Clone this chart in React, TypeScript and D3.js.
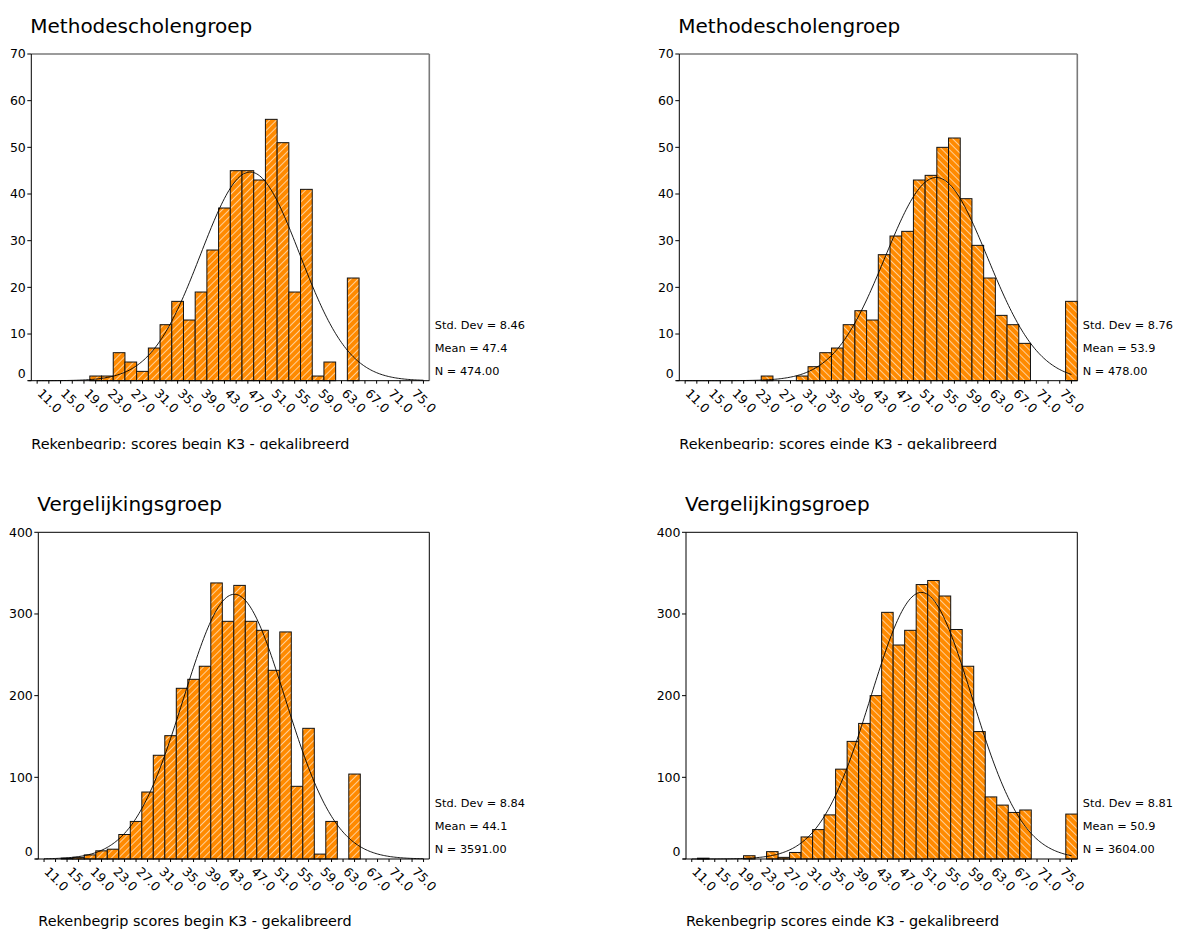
import React from "react";
import * as d3 from "d3";

// Bin midpoints (bin width 2) shared by all four histograms
const binMids = [11, 13, 15, 17, 19, 21, 23, 25, 27, 29, 31, 33, 35, 37, 39, 41, 43, 45, 47, 49, 51, 53, 55, 57, 59, 61, 63, 65, 67, 69, 71, 73, 75, 77];
const tickLabels = [11, 15, 19, 23, 27, 31, 35, 39, 43, 47, 51, 55, 59, 63, 67, 71, 75];

// Counts per bin, aligned with binMids
const methodBegin = [0, 0, 0, 0, 0, 1, 1, 6, 4, 2, 7, 12, 17, 13, 19, 28, 37, 45, 45, 43, 56, 51, 19, 41, 1, 4, 0, 22, 0, 0, 0, 0, 0, 0];
const methodEnd = [0, 0, 0, 0, 0, 0, 0, 1, 0, 0, 1, 3, 6, 7, 12, 15, 13, 27, 31, 32, 43, 44, 50, 52, 39, 29, 22, 14, 12, 8, 0, 0, 0, 17];
const compareBegin = [0, 0, 1, 2, 5, 10, 12, 30, 46, 82, 127, 151, 209, 220, 236, 338, 291, 335, 291, 280, 231, 278, 89, 160, 6, 46, 0, 104, 0, 0, 0, 0, 0, 0];
const compareEnd = [0, 1, 0, 0, 0, 4, 0, 9, 2, 8, 27, 36, 54, 110, 144, 166, 200, 302, 262, 280, 336, 341, 322, 281, 236, 156, 76, 66, 57, 60, 0, 0, 0, 55];

// Summary statistics printed next to each histogram
const stdDevs = [8.46, 8.76, 8.84, 8.81];
const means = [47.4, 53.9, 44.1, 50.9];
const ns = [474, 478, 3591, 3604];

const titles = ["Methodescholengroep", "Methodescholengroep", "Vergelijkingsgroep", "Vergelijkingsgroep"];
const axisTitles = [
  "Rekenbegrip: scores begin K3 - gekalibreerd",
  "Rekenbegrip: scores einde K3 - gekalibreerd",
  "Rekenbegrip scores begin K3 - gekalibreerd",
  "Rekenbegrip scores einde K3 - gekalibreerd",
];
const yMaxes = [70, 70, 400, 400];
const yTickSteps = [10, 10, 100, 100];

const FONT = "'DejaVu Sans', Verdana, sans-serif";
const ORANGE = "#ff8a00";
const BIN_W = 2;

type PanelProps = {
  counts: number[];
  mean: number;
  sd: number;
  n: number;
  title: string;
  axisTitle: string;
  yMax: number;
  yStep: number;
  left: number;
  right: number;
  top: number;
  bottom: number;
  hatch: string;
  frameColor: string;
  frameWidth: number;
  clipId?: string;
  axisTitleY: number;
};

function Panel(p: PanelProps) {
  const x = d3.scaleLinear().domain([binMids[0] - BIN_W / 2, binMids[binMids.length - 1] + BIN_W / 2]).range([p.left, p.right]);
  const y = d3.scaleLinear().domain([0, p.yMax]).range([p.bottom, p.top]);
  const yTicks = d3.range(0, p.yMax + p.yStep / 2, p.yStep);

  const dens = (v: number) =>
    (p.n * BIN_W) / (p.sd * Math.sqrt(2 * Math.PI)) * Math.exp(-0.5 * ((v - p.mean) / p.sd) ** 2);
  const curveXs = d3.range(binMids[0], binMids[binMids.length - 1] + 0.001, 0.25);
  const curve = d3
    .line<number>()
    .x((v) => x(v))
    .y((v) => y(dens(v)))
    .curve(d3.curveMonotoneX)(curveXs);

  const fmt1 = d3.format(".1f");
  const fmt2 = d3.format(".2f");

  return (
    <g fontFamily={FONT} fill="#000">
      <text x={p.left - 1} y={p.top - 21.5} fontSize={20}>
        {p.title}
      </text>

      {/* frame */}
      <line x1={p.left} x2={p.right} y1={p.top} y2={p.top} stroke={p.frameColor} strokeWidth={p.frameWidth} />
      <line x1={p.right} x2={p.right} y1={p.top} y2={p.bottom} stroke={p.frameColor} strokeWidth={p.frameWidth} />

      {/* bars */}
      {p.counts.map((c, i) =>
        c > 0 ? (
          <rect
            key={i}
            x={x(binMids[i] - BIN_W / 2)}
            width={x(binMids[i] + BIN_W / 2) - x(binMids[i] - BIN_W / 2)}
            y={y(c)}
            height={y(0) - y(c)}
            fill={`url(#${p.hatch})`}
            stroke="#111"
            strokeWidth={1}
          />
        ) : null
      )}

      {/* normal curve */}
      <path d={curve || ""} fill="none" stroke="#000" strokeWidth={0.9} />

      {/* axes */}
      <line x1={p.left} x2={p.left} y1={p.top} y2={p.bottom} stroke="#000" strokeWidth={1} />
      <line x1={p.left - 3} x2={p.right} y1={p.bottom} y2={p.bottom} stroke="#000" strokeWidth={1} />
      {yTicks.map((t) => (
        <g key={t}>
          <line x1={p.left - 4} x2={p.left} y1={y(t)} y2={y(t)} stroke="#000" />
          <text x={p.left - 5.5} y={y(t) - (t === 0 ? 7 : 0)} dy="0.35em" textAnchor="end" fontSize={12.5}>
            {t}
          </text>
        </g>
      ))}
      {binMids.map((m) => (
        <line key={m} x1={x(m)} x2={x(m)} y1={p.bottom} y2={p.bottom + 3} stroke="#000" />
      ))}
      {tickLabels.map((t) => (
        <text
          key={t}
          transform={`translate(${x(t) - 0.5},${p.bottom + 13.5}) rotate(45)`}
          fontSize={12.5}
        >
          {fmt1(t)}
        </text>
      ))}

      {/* statistics */}
      <text x={p.right + 5.5} y={p.bottom - 56} dy="0.35em" fontSize={11.3}>
        {`Std. Dev = ${fmt2(p.sd)}`}
      </text>
      <text x={p.right + 5.5} y={p.bottom - 33} dy="0.35em" fontSize={11.3}>
        {`Mean = ${fmt1(p.mean)}`}
      </text>
      <text x={p.right + 5.5} y={p.bottom - 10} dy="0.35em" fontSize={11.3}>
        {`N = ${fmt2(p.n)}`}
      </text>

      <text
        x={p.left}
        y={p.axisTitleY}
        fontSize={14.4}
        clipPath={p.clipId ? `url(#${p.clipId})` : undefined}
      >
        {p.axisTitle}
      </text>
    </g>
  );
}

export default function App() {
  const topRow = { top: 54, bottom: 380.7, frameColor: "#7a7a7a", frameWidth: 1.6, axisTitleY: 448.5, clipId: "clipTop" };
  const bottomRow = { top: 532.3, bottom: 859, frameColor: "#000", frameWidth: 1, axisTitleY: 926 };
  const panels = [
    { counts: methodBegin, left: 31.3, right: 429.3, hatch: "hatchL", ...topRow },
    { counts: methodEnd, left: 679.3, right: 1077.3, hatch: "hatchR", ...topRow },
    { counts: compareBegin, left: 38.3, right: 429.3, hatch: "hatchL", ...bottomRow },
    { counts: compareEnd, left: 686, right: 1077.3, hatch: "hatchR", ...bottomRow },
  ];

  const step = 5;
  return (
    <svg
      width={1183}
      height={931}
      style={{ position: "absolute", left: 0, top: 0, background: "#fff" }}
    >
      <defs>
        <pattern id="hatchL" patternUnits="userSpaceOnUse" width={step} height={step} patternTransform="rotate(45)">
          <rect width={step} height={step} fill={ORANGE} />
          <line x1={0.5} y1={0} x2={0.5} y2={step} stroke="#fff" strokeWidth={0.8} strokeOpacity={0.75} />
        </pattern>
        <pattern id="hatchR" patternUnits="userSpaceOnUse" width={step} height={step} patternTransform="rotate(-45)">
          <rect width={step} height={step} fill={ORANGE} />
          <line x1={0.5} y1={0} x2={0.5} y2={step} stroke="#fff" strokeWidth={0.8} strokeOpacity={0.75} />
        </pattern>
        <clipPath id="clipTop">
          <rect x={0} y={0} width={1183} height={449.5} />
        </clipPath>
      </defs>
      {panels.map((pp, i) => (
        <Panel
          key={i}
          {...pp}
          mean={means[i]}
          sd={stdDevs[i]}
          n={ns[i]}
          title={titles[i]}
          axisTitle={axisTitles[i]}
          yMax={yMaxes[i]}
          yStep={yTickSteps[i]}
        />
      ))}
    </svg>
  );
}
